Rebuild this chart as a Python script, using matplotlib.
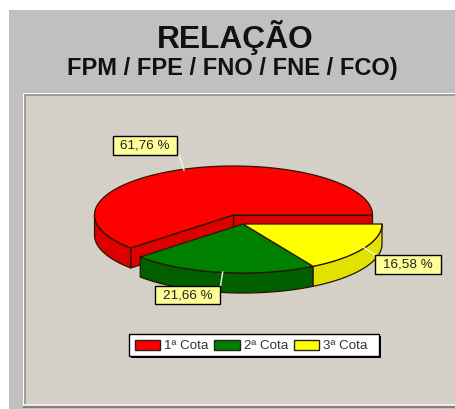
import numpy as np
import matplotlib
matplotlib.use("Agg")
import matplotlib.pyplot as plt
from matplotlib.patches import Polygon, Rectangle, Patch

plt.rcParams['font.family'] = ['Liberation Sans', 'DejaVu Sans']

categories = ['1ª Cota', '2ª Cota', '3ª Cota']
values = [61.76, 21.66, 16.58]
value_labels = ['61,76 %', '21,66 %', '16,58 %']
top_colors = ['#ff0000', '#008000', '#ffff00']
side_colors = ['#dc0000', '#006000', '#e2e200']
title_main = 'RELAÇÃO'
title_sub = 'FPM / FPE / FNO / FNE / FCO)'

fig = plt.figure(figsize=(4.56, 4.09), dpi=100, facecolor='white')
ax = fig.add_axes([0, 0, 1, 1])
ax.set_xlim(0, 456)
ax.set_ylim(409, 0)
ax.axis('off')

# panels
ax.add_patch(Rectangle((9, 10), 460, 410, fc='#c0c0c0', ec='none', zorder=0))
ax.add_patch(Rectangle((23, 93), 460, 314, fc='white', ec='none', zorder=0.1))
ax.add_patch(Rectangle((24, 94), 460, 313, fc='#a09c96', ec='none', zorder=0.2))
ax.add_patch(Rectangle((26, 96), 460, 308, fc='#d4d0c8', ec='none', zorder=0.3))
ax.add_patch(Rectangle((24, 404), 460, 2, fc='#ecebe6', ec='none', zorder=0.4))
ax.add_patch(Rectangle((23, 406), 460, 1.5, fc='#808080', ec='none', zorder=0.4))

ax.text(235, 48, title_main, ha='center', va='baseline', fontsize=22.9,
        fontweight='bold', color='#111111')
ax.text(232, 75, title_sub, ha='center', va='baseline', fontsize=17.0,
        fontweight='bold', color='#111111')

# pie geometry
RX, RY, DEPTH = 139, 49, 20
centers = [(233.5, 215), (243, 224), (243, 224)]
edge = '#2a1500'
lw = 0.9


def arc(c, t1, t2, dz=0):
    t = np.radians(np.linspace(t1, t2, max(int(abs(t2 - t1)), 2) + 1))
    return np.column_stack([c[0] + RX * np.cos(t), c[1] - RY * np.sin(t) + dz])


def poly(pts, fc, z):
    ax.add_patch(Polygon(pts, closed=True, fc=fc, ec=edge, lw=lw, zorder=z, joinstyle='round'))


def cut_face(c, t, fc, z):
    p = arc(c, t, t, 0)[0]
    c = np.array(c, dtype=float)
    poly([c, p, p + [0, DEPTH], c + [0, DEPTH]], fc, z)


bounds = np.concatenate([[0], np.cumsum(values) / np.sum(values) * 360])
for i, (c, top, side) in enumerate(zip(centers, top_colors, side_colors)):
    t1, t2 = bounds[i], bounds[i + 1]
    z = 2 + i * 2 if i else 2
    if i == 0:
        cut_face(c, t1, side, z)
        cut_face(c, t2, side, z + 0.1)
    lo, hi = max(t1, 180), min(t2, 360)
    if hi > lo:
        poly(np.vstack([arc(c, lo, hi), arc(c, hi, lo, DEPTH)]), side, z + 0.2)
    poly(np.vstack([[c], arc(c, t1, t2)]), top, z + 0.3)

# value labels with leaders
boxes = [(113, 136, 64, 19), (155, 286, 65, 18), (375, 255, 66, 19)]
leaders = [((179, 155), (184, 170)), ((220.5, 286), (222.7, 272)), ((377, 256), (363, 247))]
for txt, b, l in zip(value_labels, boxes, leaders):
    ax.plot(*zip(*l), color='#f4f4e8', lw=1, zorder=10)
    ax.add_patch(Rectangle(b[:2], b[2], b[3], fc='#ffff99', ec='black', lw=1, zorder=11))
    ax.text(b[0] + b[2] / 2, b[1] + b[3] / 2 + 0.3, txt, ha='center', va='center',
            fontsize=9.7, color='#222222', zorder=12)

# legend: frame and shadow behind frameless entries
ax.add_patch(Rectangle((131, 336), 250, 22, fc='black', ec='none', zorder=18))
ax.add_patch(Rectangle((129, 334), 250, 22, fc='white', ec='black', lw=1, zorder=19))
handles = [Patch(fc=col, ec='#222222', lw=1, label=cat) for col, cat in zip(top_colors, categories)]
leg = ax.legend(handles=handles, ncols=3, loc='upper left',
                bbox_to_anchor=(135 / 456, 1 - 339.5 / 409), bbox_transform=fig.transFigure,
                fontsize=9.6, frameon=False, borderaxespad=0, borderpad=0, handlelength=1.88,
                handleheight=0.85, handletextpad=0.3, columnspacing=0.45)
leg.set_zorder(20)
for t in leg.get_texts():
    t.set_color('#333333')

fig.savefig('out.png', dpi=100, facecolor='white')
